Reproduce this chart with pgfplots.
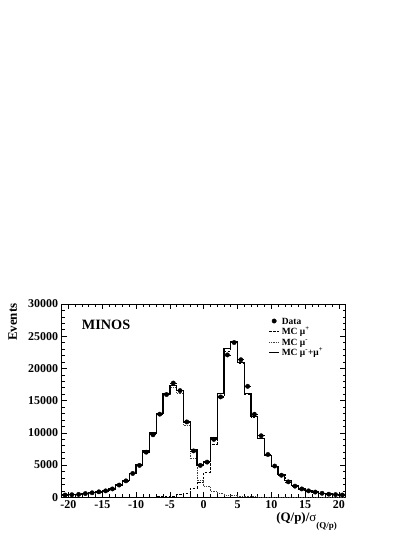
\documentclass[border=0pt]{standalone}
\usepackage{fontspec}
\setmainfont{Liberation Serif}
\usepackage{pgfplots}
\usepackage{pgfplotstable}
\pgfplotsset{compat=1.18}

% data points at bin centres
\pgfplotstableread{
c n
-20.5 350
-19.5 400
-18.5 450
-17.5 580
-16.5 700
-15.5 850
-14.5 1000
-13.5 1300
-12.5 1900
-11.5 2550
-10.5 3700
-9.5 4950
-8.5 7000
-7.5 9700
-6.5 12900
-5.5 15950
-4.5 17730
-3.5 16560
-2.5 11700
-1.5 7200
-0.5 4950
0.5 5460
1.5 8990
2.5 15580
3.5 22100
4.5 24020
5.5 21350
6.5 17220
7.5 12880
8.5 9550
9.5 6640
10.5 4850
11.5 3420
12.5 2400
13.5 1730
14.5 1300
15.5 1000
16.5 810
17.5 620
18.5 480
19.5 420
20.5 360
}\datatab

% MC histograms, low bin edges (last row closes the final bin)
\pgfplotstableread{
lo plus minus tot
-21 10 340 350
-20 10 390 400
-19 10 440 450
-18 10 550 560
-17 15 690 705
-16 15 840 855
-15 20 1040 1060
-14 20 1340 1360
-13 25 1880 1905
-12 30 2600 2630
-11 35 3700 3735
-10 40 5060 5100
-9 50 7150 7200
-8 70 9930 10000
-7 100 12950 13050
-6 150 15950 16100
-5 220 17130 17350
-4 400 16200 16600
-3 650 11150 11800
-2 1400 6000 7400
-1 2400 2600 5000
0 3900 1700 5600
1 8300 900 9200
2 15600 550 16150
3 22700 350 23050
4 24000 230 24230
5 20800 150 20950
6 16050 100 16150
7 12450 70 12520
8 9090 50 9140
9 6450 40 6490
10 4770 30 4800
11 3500 25 3525
12 2620 20 2640
13 1785 15 1800
14 1338 12 1350
15 1010 10 1020
16 812 8 820
17 623 7 630
18 484 6 490
19 415 5 420
20 366 4 370
21 366 4 370
}\mctab

\begin{document}
\begin{tikzpicture}
\path[use as bounding box] (0,0) rectangle (415bp,537bp);
\begin{axis}[
  at={(61.7bp,39.7bp)}, anchor=south west,
  scale only axis, width=284bp, height=193.3bp,
  xmin=-21, xmax=21, ymin=0, ymax=30000,
  xtick={-20,-15,...,20}, ytick={0,5000,...,30000},
  minor x tick num=4, minor y tick num=4,
  tick align=inside,
  major tick length=5.5bp, minor tick length=2.8bp,
  every tick/.style={black, line width=0.6bp},
  axis line style={line width=0.8bp},
  scaled y ticks=false,
  tick label style={font=\fontsize{12}{12}\selectfont\bfseries,
    /pgf/number format/assume math mode=true,
    /pgf/number format/1000 sep={}},
  yticklabel style={inner sep=0pt, xshift=-3.4bp},
  xticklabel style={inner sep=0pt, yshift=-3.5bp},
  legend style={draw=none, fill=none, inner sep=0pt,
    at={(0.7275,0.935)}, anchor=north west,
    font=\fontsize{9.5}{9.5}\selectfont\bfseries,
    nodes={inner sep=0.5bp, text depth=0.5bp, text height=7bp},
    row sep=2bp, /tikz/column sep=1.5bp},
  legend cell align=left,
  legend image code/.code={\draw[#1] (0bp,0bp) -- (10bp,0bp);},
]
\addplot[const plot mark left, black, line width=0.6bp, dash pattern=on 2.5bp off 1.5bp, forget plot]
  table[x=lo, y=plus]{\mctab};
\addplot[const plot mark left, black!75, line width=0.7bp, dash pattern=on 0.7bp off 1bp, forget plot]
  table[x=lo, y=minus]{\mctab};
\addplot[const plot mark left, black, line width=1.3bp, forget plot]
  table[x=lo, y=tot]{\mctab};
\addplot[only marks, black, mark=*, mark size=2.2bp, forget plot,
  error bars/.cd, x dir=both, x fixed=0.5, error mark=none,
  error bar style={line width=0.6bp}]
  table[x=c, y=n]{\datatab};

\addlegendimage{legend image code/.code={\fill (5bp,0bp) circle (2.2bp);}}
\addlegendentry{Data}
\addlegendimage{black, line width=0.6bp, dash pattern=on 2.5bp off 1.5bp}
\addlegendentry{MC μ\textsuperscript{+}}
\addlegendimage{black!75, line width=0.7bp, dash pattern=on 0.7bp off 1bp}
\addlegendentry{MC μ\textsuperscript{-}}
\addlegendimage{black, line width=1.3bp}
\addlegendentry{MC μ\textsuperscript{-}+μ\textsuperscript{+}}

\node[anchor=base west, inner sep=0pt] at (rel axis cs:0.0704,0.868)
  {\fontsize{14.3}{14.3}\selectfont\bfseries MINOS};
\end{axis}
\node[rotate=90, anchor=east, inner sep=0pt] at (12.6bp,233.7bp)
  {\fontsize{13}{13}\selectfont\bfseries Events};
\node[anchor=base east, inner sep=0pt] at (337bp,16bp)
  {\fontsize{13}{13}\selectfont\bfseries (Q/p)/{\mdseries σ}\raisebox{-7bp}{\fontsize{9}{9}\selectfont (Q/p)}};
\end{tikzpicture}
\end{document}
